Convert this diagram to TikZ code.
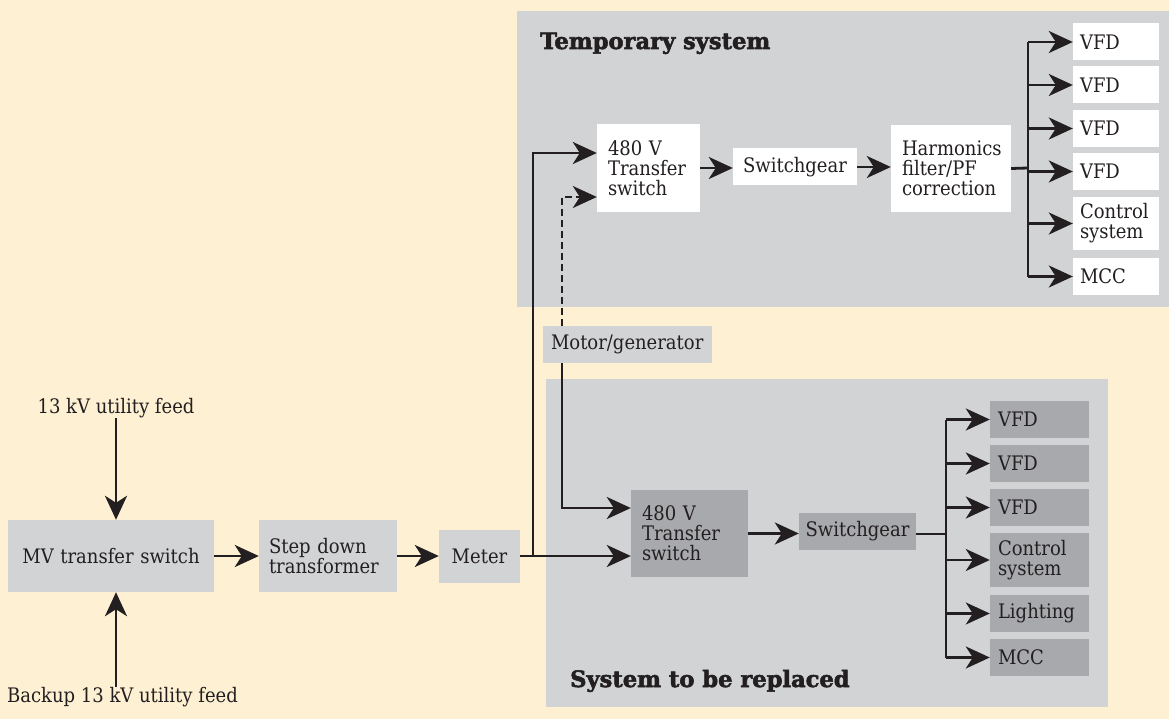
\documentclass[tikz,border=0pt]{standalone}
\usepackage{fontspec}
\setmainfont{DejaVu Serif Condensed}
\newfontfamily\headfont{DejaVu Serif}[BoldFeatures={FakeBold=2.4}]
\usetikzlibrary{arrows.meta,calc}
\definecolor{cream}{HTML}{FEF0D3}
\definecolor{panel}{HTML}{D1D3D4}
\definecolor{dark}{HTML}{A7A9AC}
\definecolor{ink}{HTML}{231F20}
\tikzset{
  body/.style={font=\fontsize{20pt}{20pt}\selectfont, text=ink},
  lbl/.style={body, inner sep=0pt},
  bx/.style={body, rectangle, inner ysep=0pt, align=left},
  title/.style={font=\headfont\bfseries\fontsize{22.6pt}{24pt}\selectfont, text=ink, inner sep=0pt, anchor=base west},
  wire/.style={draw=ink, line width=2.8pt},
  arr/.style={wire, -{Stealth[length=24pt,width=22pt,inset=7pt]}},
  darr/.style={arr, line width=2.2pt, dash pattern=on 7pt off 4pt}
}
\begin{document}
\begin{tikzpicture}[x=1pt,y=-1pt]
\useasboundingbox (0,0) rectangle (1169,719);
\fill[cream] (0,0) rectangle (1169,719);
% panels
\fill[panel] (517,11) rectangle (1169,307);
\fill[panel] (546,379) rectangle (1108,707);
\node[title] (ttemp) at (540,49) {Temporary system};
\node[title] (trepl) at (570,687) {System to be replaced};

% left chain
\node[lbl] (feed1) at (116,408) {13 kV utility feed};
\node[lbl, anchor=west] (backup) at (7,697) {Backup 13 kV utility feed};
\node[bx, fill=panel, minimum width=206pt, minimum height=72pt, text width=190pt, align=center] (mv) at (111,556) {MV transfer switch};
\node[bx, fill=panel, minimum width=138pt, minimum height=72pt, text width=118pt, inner xsep=10pt] (step) at (328,556) {Step down\\transformer};
\node[bx, fill=panel, minimum width=81pt, minimum height=53pt, text width=71pt, align=center] (meter) at (479.5,556) {Meter};
\coordinate (j1) at (533,556);

% temporary system
\node[bx, fill=white, minimum width=103pt, minimum height=88pt, text width=81pt, inner xsep=11pt] (ts1) at (648.5,168) {480 V\\Transfer\\switch};
\node[bx, fill=white, minimum width=124pt, minimum height=37pt, text width=110pt, align=center] (sg1) at (795,167) {Switchgear};
\node[bx, fill=white, minimum width=120pt, minimum height=87pt, text width=98pt, inner xsep=11pt] (harm) at (951,168.5) {Harmonics\\filter/PF\\correction};
\coordinate (b1) at (1028,168);
\foreach \n/\y/\h/\t in {t1/42/37/VFD, t2/85/37/VFD, t3/128.5/37/VFD, t4/171.5/37/VFD, t5/223.5/53/{Control\\system}, t6/276.5/37/MCC}{
  \node[bx, fill=white, minimum width=86pt, minimum height=\h pt, text width=72pt, inner xsep=7pt] (\n) at (1116,\y) {\t};
}

% motor generator
\node[bx, fill=panel, minimum width=169pt, minimum height=37pt, text width=153pt, inner xsep=8pt] (mg) at (627.5,344.5) {Motor/generator};
\coordinate (mgx) at (562,344.5);

% system to be replaced
\node[bx, fill=dark, minimum width=117pt, minimum height=87pt, text width=95pt, inner xsep=11pt] (ts2) at (689.5,533.5) {480 V\\Transfer\\switch};
\node[bx, fill=dark, minimum width=117pt, minimum height=37pt, text width=107pt, align=center] (sg2) at (857.5,531.5) {Switchgear};
\coordinate (b2) at (946,534);
\foreach \n/\y/\h/\t in {r1/419.5/37/VFD, r2/463.5/37/VFD, r3/507.5/37/VFD, r4/560/54/{Control\\system}, r5/613.5/37/Lighting, r6/657.5/37/MCC}{
  \node[bx, fill=dark, minimum width=99pt, minimum height=\h pt, text width=83pt, inner xsep=8pt] (\n) at (1039.5,\y) {\t};
}

% connectors: left
\draw[arr] (feed1.south) -- (feed1.south |- mv.north);
\draw[arr] (feed1.south |- backup.north) -- (feed1.south |- mv.south);
\draw[arr] (mv.east) -- (step.west);
\draw[arr] (step.east) -- (meter.west);
\draw[arr] (meter.east) -- (meter.east -| ts2.west);
\draw[arr] (j1) |- ($(ts1.west)+(0,-15)$);
\draw[darr] (mgx |- mg.north) |- ($(ts1.west)+(0,29)$);
\draw[arr] (mgx |- mg.south) |- ($(ts2.west)+(0,-25.5)$);

% temporary chain
\draw[arr] (ts1.east) -- (ts1.east -| sg1.west);
\draw[arr] (sg1.east) -- (sg1.east -| harm.west);
\draw[wire] (harm.east) -- (b1);
\draw[wire] (b1 |- t1.west) -- (b1 |- t6.west);
\foreach \n in {t1,t2,t3,t4,t5,t6} \draw[arr] (b1 |- \n.west) -- (\n.west);

% replaced chain
\draw[arr] (ts2.east) -- (ts2.east -| sg2.west);
\draw[wire] (sg2.east |- b2) -- (b2);
\draw[wire] (b2 |- r1.west) -- (b2 |- r6.west);
\foreach \n in {r1,r2,r3,r4,r5,r6} \draw[arr] (b2 |- \n.west) -- (\n.west);
\end{tikzpicture}
\end{document}
